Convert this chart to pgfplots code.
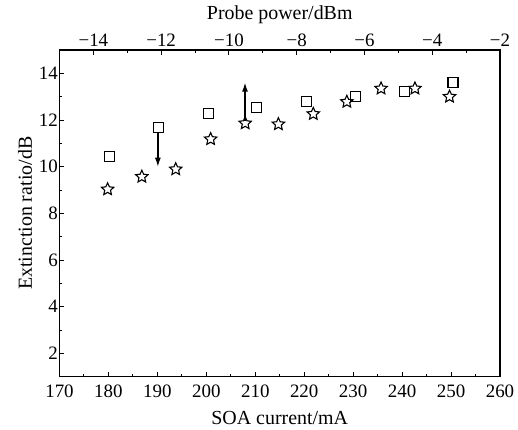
\documentclass[border=0pt]{standalone}
\usepackage{fontspec}
\setmainfont{Liberation Serif}
\usepackage{pgfplots}
\pgfplotsset{compat=1.18}
\usetikzlibrary{arrows.meta}
\pgfdeclareplotmark{ostar}{%
  \pgfpathmoveto{\pgfpointpolar{90}{\pgfplotmarksize}}%
  \pgfpathlineto{\pgfpointpolar{126}{0.47\pgfplotmarksize}}%
  \pgfpathlineto{\pgfpointpolar{162}{\pgfplotmarksize}}%
  \pgfpathlineto{\pgfpointpolar{198}{0.47\pgfplotmarksize}}%
  \pgfpathlineto{\pgfpointpolar{234}{\pgfplotmarksize}}%
  \pgfpathlineto{\pgfpointpolar{270}{0.47\pgfplotmarksize}}%
  \pgfpathlineto{\pgfpointpolar{306}{\pgfplotmarksize}}%
  \pgfpathlineto{\pgfpointpolar{342}{0.47\pgfplotmarksize}}%
  \pgfpathlineto{\pgfpointpolar{18}{\pgfplotmarksize}}%
  \pgfpathlineto{\pgfpointpolar{54}{0.47\pgfplotmarksize}}%
  \pgfpathclose
  \pgfusepathqstroke}
\pgfplotsset{
  common/.style={
    scale only axis, width=440.5bp, height=326.7bp,
    at={(0,0)}, anchor=south west,
    ymin=1, ymax=15,
    tick label style={font=\fontsize{19}{20}\selectfont},
    label style={font=\fontsize{20}{21}\selectfont},
    axis line style={line width=1.1bp},
    every tick/.style={line width=1bp, black},
    major tick length=5bp, minor tick length=3bp,
    /pgf/number format/assume math mode=true,
    tick align=inside,
  }
}
\begin{document}
\begin{tikzpicture}
\path[use as bounding box] (-59.5bp,-53.3bp) rectangle (458.5bp,376.7bp);
\begin{axis}[common,
  xmin=170, xmax=260,
  xtick={170,180,...,260}, minor x tick num=1,
  ytick={2,4,...,14}, minor y tick num=1,
  xtick pos=bottom, ytick pos=left,
  xlabel={SOA current/mA},
  ylabel={Extinction ratio/dB},
  xticklabel style={anchor=center, yshift=-15bp},
  yticklabel style={inner sep=1.5bp},
  ylabel style={at={(axis description cs:-0.0783,0.5)}, anchor=center},
  xlabel style={at={(axis description cs:0.5,-0.126)}, anchor=center},
]
\addplot[only marks, mark=square, mark size=5bp, line width=1.1bp] coordinates {
  (180.2,10.43) (190.2,11.68) (200.4,12.29) (210.2,12.54)
  (220.4,12.78) (230.5,13.0) (240.5,13.21) (250.4,13.6)
};
\draw[-{Latex[length=9bp,width=6bp]}, line width=1.3bp] (axis cs:190.1,11.45) -- (axis cs:190.1,10.0);
\draw[-{Latex[length=9bp,width=6bp]}, line width=1.3bp] (axis cs:207.9,11.95) -- (axis cs:207.9,13.6);
\end{axis}
\begin{axis}[common,
  xmin=-15, xmax=-2,
  hide y axis,
  axis x line*=top,
  xtick={-14,-12,...,-2}, minor x tick num=1,
  xticklabels={−14,−12,−10,−8,−6,−4,−2},
  xtick pos=top,
  xlabel={Probe power/dBm},
  xticklabel style={anchor=center, yshift=10bp},
  xlabel style={at={(axis description cs:0.5,1.109)}, anchor=center},
]
\addplot[only marks, mark=ostar, mark size=6.5bp, line width=1.1bp] coordinates {
  (-13.58,9.03) (-12.57,9.57) (-11.57,9.89) (-10.54,11.18)
  (-9.52,11.86) (-8.54,11.82) (-7.51,12.26) (-6.52,12.78)
  (-5.51,13.35) (-4.51,13.35) (-3.49,13.0)
};
\end{axis}
\end{tikzpicture}
\end{document}
